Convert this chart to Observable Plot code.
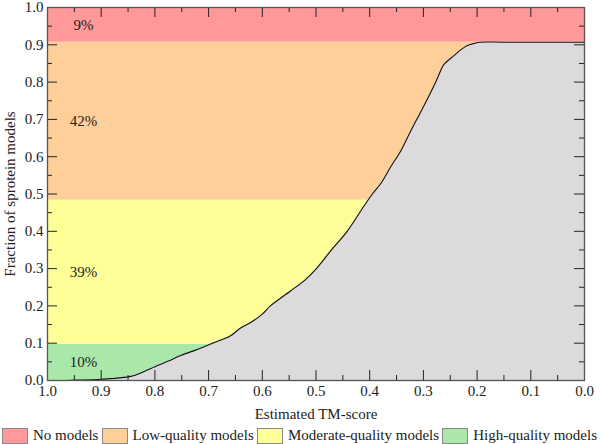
<!DOCTYPE html>
<html>
<head>
<meta charset="utf-8">
<script src="https://cdn.jsdelivr.net/npm/d3@7"></script>
<script src="https://cdn.jsdelivr.net/npm/@observablehq/plot@0.6"></script>
<style>
  html, body { margin: 0; padding: 0; background: #fff; }
  #chart svg { display: block; }
  #legend { width: 600px; height: 31px; display: flex; align-items: center; justify-content: space-between; box-sizing: border-box; padding: 0 3px 0 2px; font-family: "Liberation Serif", serif; font-size: 15px; color: #222; }
  .item { display: flex; align-items: center; }
  .sw { width: 24px; height: 14px; border: 1px solid #888; margin-right: 5px; }
</style>
</head>
<body>
<div id="chart"></div>
<div id="legend"></div>
<script>
// Quality categories (bands on the y axis)
const bandNames = ["High-quality models", "Moderate-quality models", "Low-quality models", "No models"];
const bandLow = [0, 0.097, 0.4835, 0.907];
const bandHigh = [0.097, 0.4835, 0.907, 1.0];
const bandPct = ["10%", "39%", "42%", "9%"];
const bandColors = ["#aae8aa", "#ffff99", "#ffcf99", "#ff9999"];

// Cumulative curve: fraction of models with estimated TM-score >= x
const curveX = [1.0, 0.976, 0.95, 0.90, 0.845, 0.82, 0.80, 0.775, 0.752, 0.72, 0.696, 0.659, 0.641, 0.62, 0.60, 0.585, 0.5475, 0.52, 0.498, 0.473, 0.442, 0.411, 0.395, 0.377, 0.36, 0.343, 0.325, 0.305, 0.29, 0.277, 0.269, 0.262, 0.243, 0.23, 0.218, 0.205, 0.194, 0.15, 0.0];
const curveY = [0, 0, 0.001, 0.0035, 0.011, 0.024, 0.037, 0.052, 0.067, 0.084, 0.098, 0.12, 0.14, 0.157, 0.178, 0.2, 0.24, 0.27, 0.302, 0.347, 0.40, 0.467, 0.50, 0.533, 0.575, 0.613, 0.665, 0.72, 0.762, 0.80, 0.827, 0.847, 0.871, 0.887, 0.898, 0.904, 0.907, 0.907, 0.907];

// Tick values
const majorTicks = [0, 0.1, 0.2, 0.3, 0.4, 0.5, 0.6, 0.7, 0.8, 0.9, 1.0];
const minorTicks = [0.05, 0.15, 0.25, 0.35, 0.45, 0.55, 0.65, 0.75, 0.85, 0.95];

const bands = bandNames.map((name, i) => ({name, lo: bandLow[i], hi: bandHigh[i], pct: bandPct[i], color: bandColors[i]}));
const curve = curveX.map((x, i) => ({x, y: curveY[i]}));

const W = 600, H = 420, mT = 7, mR = 16, mB = 40, mL = 47;
const fw = W - mL - mR, fh = H - mT - mB;
const tc = "#222";

const chart = Plot.plot({
  width: W, height: H,
  marginTop: mT, marginRight: mR, marginBottom: mB, marginLeft: mL,
  style: {fontFamily: "'Liberation Serif', serif", fontSize: "15px", color: tc, background: "#fff"},
  x: {domain: [1, 0]},
  y: {domain: [0, 1]},
  marks: [
    Plot.rect(bands, {x1: () => 1, x2: () => 0, y1: "lo", y2: "hi", fill: "color"}),
    Plot.areaY(curve, {x: "x", y1: () => 0, y2: "y", fill: "#dcdadd", curve: "catmull-rom"}),
    Plot.line(curve, {x: "x", y: "y", stroke: "#111", strokeWidth: 1.1, curve: "catmull-rom"}),
    Plot.text(bands, {x: () => 0.933, y: d => (d.lo + d.hi) / 2, text: "pct", fill: tc, fontSize: 15}),
    // inward ticks on all four sides
    Plot.tickX(majorTicks, {x: d => d, insetBottom: fh - 10, stroke: tc}),
    Plot.tickX(minorTicks, {x: d => d, insetBottom: fh - 5, stroke: tc}),
    Plot.tickX(majorTicks, {x: d => d, insetTop: fh - 10, stroke: tc}),
    Plot.tickX(minorTicks, {x: d => d, insetTop: fh - 5, stroke: tc}),
    Plot.tickY(majorTicks, {y: d => d, insetRight: fw - 10, stroke: tc}),
    Plot.tickY(minorTicks, {y: d => d, insetRight: fw - 5, stroke: tc}),
    Plot.tickY(majorTicks, {y: d => d, insetLeft: fw - 10, stroke: tc}),
    Plot.tickY(minorTicks, {y: d => d, insetLeft: fw - 5, stroke: tc}),
    Plot.frame({stroke: "#555", strokeWidth: 1.3}),
    Plot.axisX({ticks: majorTicks, tickSize: 0, tickPadding: 5, tickFormat: d3.format(".1f"),
      label: "Estimated TM-score", labelAnchor: "center", labelArrow: "none", labelOffset: 38, fill: tc}),
    Plot.axisY({ticks: majorTicks, tickSize: 0, tickPadding: 4, tickFormat: d3.format(".1f"),
      label: "Fraction of sprotein models", labelAnchor: "center", labelArrow: "none", labelOffset: 43, fill: tc})
  ]
});
document.getElementById("chart").appendChild(chart);

// Legend (order as in the reference)
const legendOrder = [3, 2, 1, 0];
const legend = document.getElementById("legend");
for (const i of legendOrder) {
  const item = document.createElement("div");
  item.className = "item";
  const sw = document.createElement("span");
  sw.className = "sw";
  sw.style.background = bandColors[i];
  const t = document.createElement("span");
  t.textContent = bandNames[i];
  item.appendChild(sw);
  item.appendChild(t);
  legend.appendChild(item);
}
</script>
</body>
</html>
